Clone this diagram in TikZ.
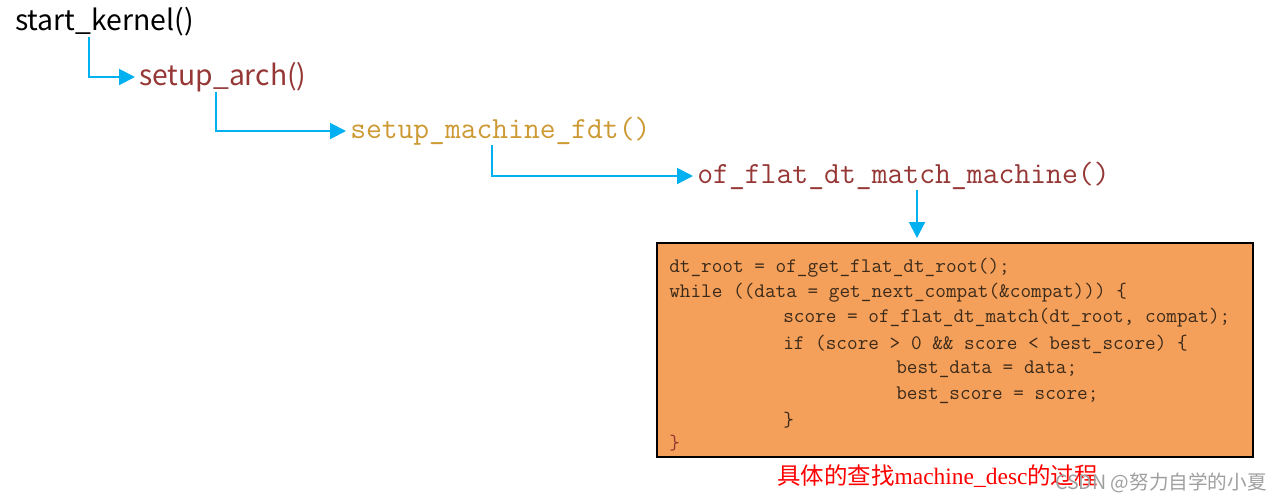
\documentclass[tikz,border=0pt]{standalone}
\usepackage{fontspec}
\usetikzlibrary{arrows.meta,calc}
\newfontfamily\sansf{Noto Sans CJK SC}
\newfontfamily\monof{Latin Modern Mono}
\newfontfamily\cjk{Noto Sans CJK SC}
\newfontfamily\serifl{Liberation Serif}
\definecolor{arrowblue}{HTML}{00B0F0}
\definecolor{brownred}{HTML}{953735}
\definecolor{gold}{HTML}{CC9933}
\definecolor{boxfill}{HTML}{F4A05A}
\definecolor{codecol}{HTML}{3B2A1A}
\tikzset{
  conn/.style={draw=arrowblue, line width=1.5pt, -{Triangle[length=12pt,width=12pt]}, shorten >=3pt},
  fn/.style={inner sep=0pt, anchor=west},
  codeline/.style={inner sep=0pt, anchor=west, font=\monof\fontsize{15.5pt}{17pt}\selectfont, text=codecol},
}
\begin{document}
\begin{tikzpicture}[x=0.75pt,y=-0.75pt]
\useasboundingbox (0,0) rectangle (1280,501);
\node[fn, font=\sansf\fontsize{21.3pt}{24pt}\selectfont] (sk) at (15,22) {start\_kernel()};
\node[fn, font=\sansf\fontsize{21.2pt}{24pt}\selectfont, text=brownred] (sa) at (139,77) {setup\_arch()};
\node[fn, font=\monof\fontsize{23pt}{26pt}\selectfont, text=gold] (smf) at (350,131) {setup\_machine\_fdt()};
\node[fn, font=\monof\fontsize{23.1pt}{26pt}\selectfont, text=brownred] (of) at (697,176) {of\_flat\_dt\_match\_machine()};
\node[draw=black, line width=1.5pt, fill=boxfill, minimum width=447pt, minimum height=160.5pt, inner sep=0pt] (box) at (955,350) {};
\node[codeline] (l1) at (669,268) {dt\_root = of\_get\_flat\_dt\_root();};
\node[codeline] (l2) at (669,293) {while ((data = get\_next\_compat(\&compat))) \{};
\node[codeline] (l3) at (783,318) {score = of\_flat\_dt\_match(dt\_root, compat);};
\node[codeline] (l4) at (783,344) {if (score > 0 \&\& score < best\_score) \{};
\node[codeline] (l5) at (896,369) {best\_data = data;};
\node[codeline] (l6) at (896,395) {best\_score = score;};
\node[codeline] (l7) at (783,420) {\}};
\node[codeline, text=brownred] (l8) at (669,443) {\}};
\node[fn, text=red, font=\cjk\fontsize{17.6pt}{20pt}\selectfont] (lab) at (777,476) {具体的查找{\serifl machine\_desc}的过程};
\node[fn, text=gray!75, font=\cjk\fontsize{14.7pt}{17pt}\selectfont] (wm) at (1055,483) {CSDN @努力自学的小夏};
\coordinate (d1) at ($(sk.south west)+(74,0)$);
\coordinate (d2) at ($(sa.south west)+(77,0)$);
\coordinate (d3) at ($(smf.south west)+(142,0)$);
\coordinate (d4) at ($(of.south west)+(220,0)$);
\draw[conn] (d1) |- (sa.west);
\draw[conn] (d2) |- (smf.west);
\draw[conn] (d3) |- (of.west);
\draw[conn] (d4) -- (d4 |- box.north);
\end{tikzpicture}
\end{document}
